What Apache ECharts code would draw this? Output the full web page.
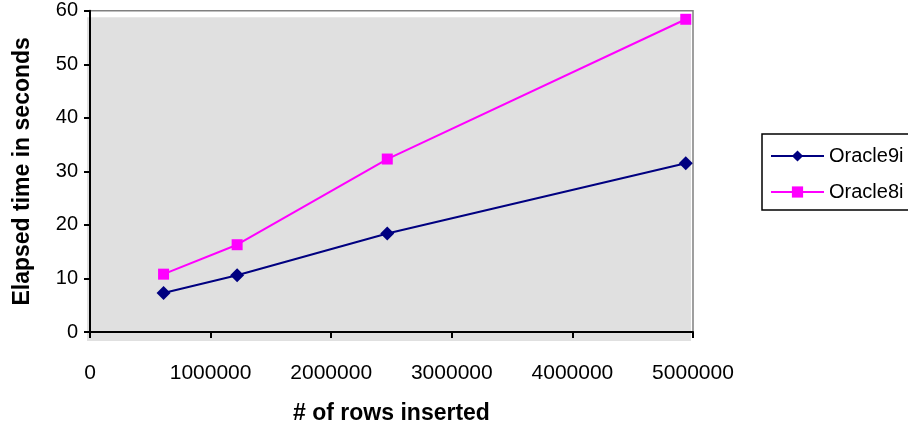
<!DOCTYPE html>
<html>
<head>
<meta charset="utf-8">
<script src="https://cdn.jsdelivr.net/npm/echarts@6/dist/echarts.min.js"></script>
<style>html,body{margin:0;padding:0;background:#fff}#c{width:908px;height:430px}</style>
</head>
<body>
<div id="c"></div>
<script>
const rowsInserted = [610000, 1220000, 2465000, 4940000];
const oracle9i = [7.3, 10.6, 18.4, 31.5];
const oracle8i = [10.8, 16.3, 32.3, 58.4];
const seriesNames = ['Oracle9i', 'Oracle8i'];
const yTicks = [0, 10, 20, 30, 40, 50, 60];
const xTicks = [0, 1000000, 2000000, 3000000, 4000000, 5000000];

const FONT = '"Liberation Sans", Arial, sans-serif';
const chart = echarts.init(document.getElementById('c'), null, {renderer: 'canvas'});
chart.setOption({
  animation: false,
  backgroundColor: '#ffffff',
  grid: {
    left: 90, top: 10.7, right: 215, bottom: 97,
    show: true, backgroundColor: 'transparent', borderColor: '#808080', borderWidth: 1.5
  },
  xAxis: {
    type: 'value',
    min: xTicks[0], max: xTicks[xTicks.length - 1], interval: xTicks[1] - xTicks[0],
    name: '# of rows inserted',
    nameLocation: 'middle', nameGap: 70,
    nameTextStyle: {fontFamily: FONT, fontWeight: 'bold', fontSize: 23, color: '#000'},
    axisLine: {show: true, onZero: false, lineStyle: {color: '#000', width: 2}},
    axisTick: {show: true, inside: false, length: 6, lineStyle: {color: '#000', width: 2}},
    axisLabel: {fontFamily: FONT, fontSize: 21, color: '#000', margin: 31, formatter: v => String(v)},
    splitLine: {show: false}
  },
  yAxis: {
    type: 'value',
    min: yTicks[0], max: yTicks[yTicks.length - 1], interval: yTicks[1] - yTicks[0],
    name: 'Elapsed time in seconds',
    nameLocation: 'middle', nameGap: 56, nameRotate: 90,
    nameTextStyle: {fontFamily: FONT, fontWeight: 'bold', fontSize: 23, color: '#000'},
    axisLine: {show: true, lineStyle: {color: '#000', width: 2}},
    axisTick: {show: true, inside: false, length: 6, lineStyle: {color: '#000', width: 2}},
    axisLabel: {fontFamily: FONT, fontSize: 20, color: '#000', margin: 12},
    splitLine: {show: false}
  },
  legend: {
    orient: 'vertical',
    left: 762, top: 134,
    padding: [12, 200, 8, 8],
    itemGap: 16,
    itemWidth: 53, itemHeight: 14,
    borderColor: '#000', borderWidth: 1.5, backgroundColor: '#ffffff',
    textStyle: {fontFamily: FONT, fontSize: 20, color: '#000'},
    data: seriesNames
  },
  series: [
    {
      name: seriesNames[0], type: 'line',
      data: rowsInserted.map((x, i) => [x, oracle9i[i]]),
      symbol: 'diamond', symbolSize: 14,
      lineStyle: {color: '#000080', width: 2},
      itemStyle: {color: '#000080'}
    },
    {
      name: seriesNames[1], type: 'line',
      data: rowsInserted.map((x, i) => [x, oracle8i[i]]),
      symbol: 'rect', symbolSize: 11,
      lineStyle: {color: '#ff00ff', width: 2},
      itemStyle: {color: '#ff00ff'}
    }
  ]
});
// plot-area fill (slightly offset from the frame, as in the source)
const tl = chart.convertToPixel({gridIndex: 0}, [xTicks[0], yTicks[yTicks.length - 1]]);
const br = chart.convertToPixel({gridIndex: 0}, [xTicks[xTicks.length - 1], yTicks[0]]);
chart.setOption({
  graphic: [{
    type: 'rect', z: -10, silent: true,
    shape: {x: tl[0] - 3, y: tl[1] + 6.5, width: (br[0] - 2) - (tl[0] - 3), height: (br[1] + 9) - (tl[1] + 6.5)},
    style: {fill: '#e0e0e0'}
  }]
});
</script>
</body>
</html>
